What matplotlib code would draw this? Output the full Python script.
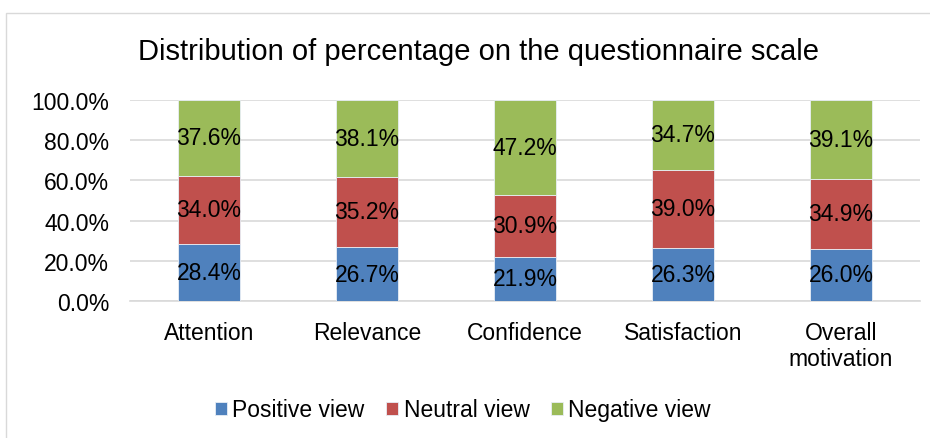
import matplotlib
matplotlib.use("Agg")
import matplotlib.pyplot as plt
from matplotlib.patches import Rectangle
from matplotlib.ticker import PercentFormatter
import numpy as np

categories = ["Attention", "Relevance", "Confidence", "Satisfaction", "Overall\nmotivation"]
positive = [28.4, 26.7, 21.9, 26.3, 26.0]
neutral = [34.0, 35.2, 30.9, 39.0, 34.9]
negative = [37.6, 38.1, 47.2, 34.7, 39.1]
series_names = ["Positive view", "Neutral view", "Negative view"]
colors = ["#4F81BD", "#C0504D", "#9BBB59"]

plt.rcParams['font.family'] = ['Liberation Sans', 'DejaVu Sans']

W, H = 930, 439
fig = plt.figure(figsize=(W / 100, H / 100), dpi=100)
fig.patches.append(Rectangle((6 / W, -0.1), 1.2, 1 - 14 / H + 0.1, transform=fig.transFigure,
                             fill=False, edgecolor="#D9D9D9", linewidth=1.0))

FS = 16.5
ax = fig.add_axes([130 / W, 1 - 302 / H, 790 / W, 201 / H])
x = np.arange(len(categories))
bottom = np.zeros(len(categories))
for vals, name, c in zip([positive, neutral, negative], series_names, colors):
    vals = np.array(vals)
    ax.bar(x, vals, 0.39, bottom=bottom, color=c, label=name,
           edgecolor="#E8EEF6", linewidth=0.6, zorder=3)
    for xi, b, v in zip(x, bottom, vals):
        ax.text(xi, b + v / 2, f"{v:.1f}%", ha="center", va="center",
                fontsize=FS, color="black", zorder=4)
    bottom += vals

ax.set_xlim(-0.5, len(categories) - 0.5)
ax.set_ylim(0, 100)
ax.set_yticks(np.arange(0, 101, 20))
ax.yaxis.set_major_formatter(PercentFormatter(decimals=1))
ax.set_xticks(x)
ax.set_xticklabels(categories, linespacing=1.15)
ax.tick_params(axis="both", length=0, labelsize=FS, colors="black")
ax.tick_params(axis="x", pad=14.5)
ax.tick_params(axis="y", pad=15)
ax.grid(axis="y", color="#D9D9D9", linewidth=1.2, zorder=0)
for s in ["top", "right", "left"]:
    ax.spines[s].set_visible(False)
ax.spines["bottom"].set_color("#D9D9D9")
ax.spines["bottom"].set_linewidth(1.2)

fig.text(478 / W, 1 - 52 / H, "Distribution of percentage on the questionnaire scale",
         ha="center", va="center", fontsize=21)

fig.legend(loc="center", bbox_to_anchor=(463 / W, 1 - 411 / H), ncol=3, frameon=False,
           fontsize=FS, handlelength=0.5, handleheight=0.5, handletextpad=0.25,
           columnspacing=0.95)

fig.savefig("out.png", dpi=100)
